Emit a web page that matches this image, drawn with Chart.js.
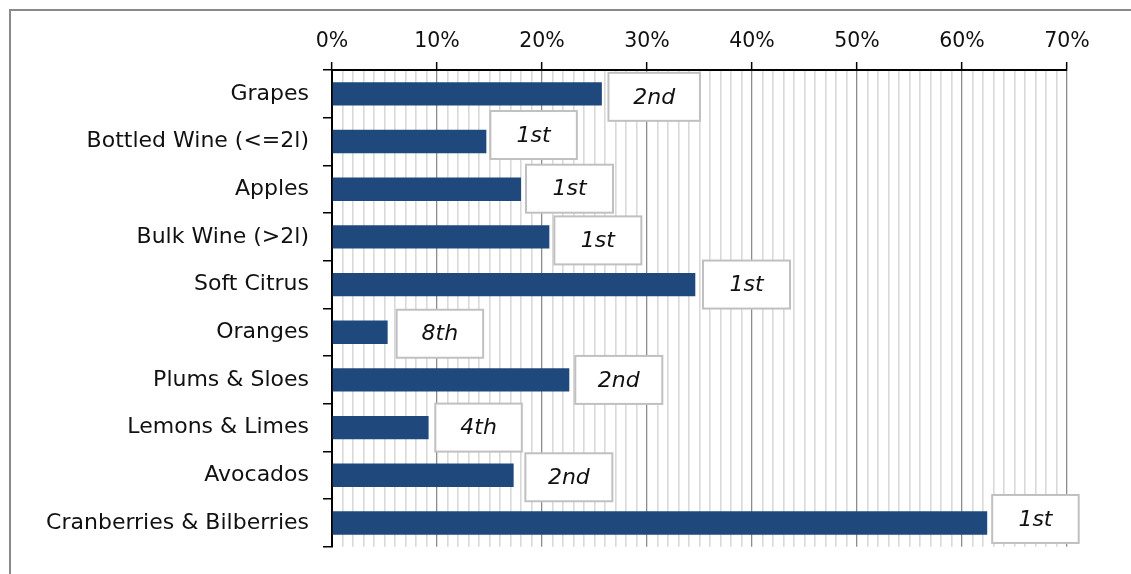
<!DOCTYPE html>
<html>
<head>
<meta charset="utf-8">
<title>Share by product</title>
<script src="https://cdn.jsdelivr.net/npm/chart.js@4/dist/chart.umd.min.js"></script>
<style>
  html, body { margin: 0; padding: 0; background: #ffffff; }
  #wrap { width: 1131px; height: 574px; }
</style>
</head>
<body>
<div id="wrap"><canvas id="chart" width="1131" height="574"></canvas></div>
<script>
// Products, their share (%) and their rank
const categories = [
  'Grapes', 'Bottled Wine (<=2l)', 'Apples', 'Bulk Wine (>2l)', 'Soft Citrus',
  'Oranges', 'Plums & Sloes', 'Lemons & Limes', 'Avocados', 'Cranberries & Bilberries'
];
const shares = [25.7, 14.7, 18.0, 20.7, 34.6, 5.3, 22.6, 9.2, 17.3, 62.4];
const ranks = ['2nd', '1st', '1st', '1st', '1st', '8th', '2nd', '4th', '2nd', '1st'];
const pctTicks = ['0%', '10%', '20%', '30%', '40%', '50%', '60%', '70%'];

// Rank box placement: gap after bar end, vertical nudge, box width (px)
const boxGap = [6.6, 4, 5, 5, 7.7, 9, 6, 6.7, 11.7, 5];
const boxDy = [3, -6.5, -0.5, 3.5, 0, 1.5, 0, 0, 2, -4];
const boxW = [91.5, 86.5, 87, 87, 87, 86.5, 87, 86.5, 87, 86.5];

const FONT = "'DejaVu Sans', sans-serif";

const frame = {
  id: 'frame',
  beforeDraw(chart) {
    const c = chart.ctx;
    c.save();
    c.fillStyle = '#ffffff';
    c.fillRect(0, 0, chart.width, chart.height);
    c.strokeStyle = '#8a8a8a';
    c.lineWidth = 2;
    c.beginPath();
    c.moveTo(10, chart.height);
    c.lineTo(10, 10);
    c.lineTo(chart.width, 10);
    c.stroke();
    c.restore();
  }
};

const rankBoxes = {
  id: 'rankBoxes',
  afterDatasetsDraw(chart) {
    const meta = chart.getDatasetMeta(0);
    const c = chart.ctx;
    c.save();
    meta.data.forEach((bar, i) => {
      const w = boxW[i], h = 48;
      const x0 = bar.x + boxGap[i];
      const yc = bar.y + boxDy[i];
      c.fillStyle = '#ffffff';
      c.fillRect(x0, yc - h / 2, w, h);
      c.strokeStyle = '#c0c0c0';
      c.lineWidth = 2;
      c.strokeRect(x0, yc - h / 2, w, h);
      c.fillStyle = '#111111';
      c.font = 'italic 22px ' + FONT;
      c.textAlign = 'center';
      c.textBaseline = 'middle';
      c.fillText(ranks[i], x0 + w / 2, yc + 1);
    });
    c.restore();
  }
};

new Chart(document.getElementById('chart'), {
  type: 'bar',
  data: {
    labels: categories,
    datasets: [{
      data: shares,
      backgroundColor: '#1f497d',
      borderWidth: 0,
      barPercentage: 0.49,
      categoryPercentage: 1
    }]
  },
  options: {
    indexAxis: 'y',
    responsive: false,
    animation: false,
    devicePixelRatio: 1,
    layout: { padding: { left: 0, top: 0, right: 64, bottom: 25 } },
    plugins: { legend: { display: false }, tooltip: { enabled: false } },
    scales: {
      x: {
        type: 'linear',
        position: 'top',
        min: 0,
        max: 70,
        afterFit(s) { s.height = 70; },
        ticks: {
          stepSize: 1,
          autoSkip: false,
          maxRotation: 0,
          padding: 8,
          color: '#111111',
          font: { family: FONT, size: 20.5 },
          callback(v) { return v % 10 === 0 ? pctTicks[v / 10] : ''; }
        },
        grid: {
          color: ctx => (ctx.tick && ctx.tick.value % 10 === 0) ? '#8c8c8c' : '#d9d9d9',
          lineWidth: ctx => (ctx.tick && ctx.tick.value % 10 === 0) ? 1.3 : 1.6,
          tickColor: ctx => (ctx.tick && ctx.tick.value % 10 === 0) ? '#000000' : 'rgba(0,0,0,0)',
          tickWidth: 1.5,
          tickLength: 8
        },
        border: { color: '#000000', width: 2 }
      },
      y: {
        type: 'category',
        afterFit(s) { s.width = 332; },
        ticks: {
          padding: 14,
          color: '#111111',
          font: { family: FONT, size: 22 }
        },
        grid: {
          offset: true,
          drawOnChartArea: false,
          color: '#000000',
          lineWidth: 1.5,
          tickLength: 9
        },
        border: { color: '#000000', width: 2 }
      }
    }
  },
  plugins: [frame, rankBoxes]
});
</script>
</body>
</html>
